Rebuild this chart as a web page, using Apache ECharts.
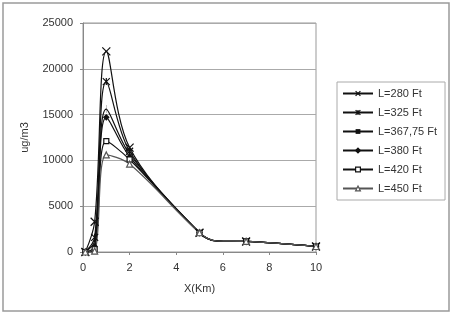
<!DOCTYPE html>
<html>
<head>
<meta charset="utf-8">
<script src="https://cdn.jsdelivr.net/npm/echarts@6/dist/echarts.min.js"></script>
<style>
  html, body { margin: 0; padding: 0; background: #fff; }
  #chart { width: 453px; height: 315px; }
</style>
</head>
<body>
<div id="chart"></div>
<script>
// distance downwind (km); 5.75 is a bend without a marker
const xKm = [0.1, 0.5, 1, 2, 5, 5.75, 7, 10]
const noMarkerIdx = [5]

const seriesNames = ['L=280 Ft', 'L=325 Ft', 'L=367,75 Ft', 'L=380 Ft', 'L=420 Ft', 'L=450 Ft']
const l280 = [0, 3300, 21900, 11400, 2100, 1200, 1150, 600]
const l325 = [0, 1600, 18600, 11000, 2100, 1200, 1150, 600]
const l367 = [0, 1200, 15600, 10700, 2100, 1200, 1150, 600]
const l380 = [0, 600, 14700, 10400, 2100, 1200, 1150, 600]
const l420 = [0, 300, 12100, 10100, 2100, 1200, 1150, 600]
const l450 = [0, 100, 10600, 9600, 2100, 1200, 1150, 600]
const allValues = [l280, l325, l367, l380, l420, l450]

const yTicks = [0, 5000, 10000, 15000, 20000, 25000]
const xTicks = [0, 2, 4, 6, 8, 10]

const symbols = [
  'path://M0,0L10,10M10,0L0,10',
  'path://M0,0L10,10M10,0L0,10M5,0L5,10',
  'path://M4.4,0L5.6,0L5.6,10L4.4,10Z',
  'diamond',
  'rect',
  'triangle'
]
const symbolSizes = [8, 7, [2, 8], 5, 5, 6]
const strokeOnly = [true, true, false, false, false, false]
const hollow = [false, false, false, false, true, true]
const lineColors = ['#111', '#111', '#111', '#111', '#111', '#555']

const chart = echarts.init(document.getElementById('chart'), null, { renderer: 'canvas' })

const font = 'Liberation Sans, Arial, sans-serif'

const markStyle = i => ({
  color: strokeOnly[i] ? 'none' : (hollow[i] ? '#fff' : lineColors[i]),
  borderColor: lineColors[i],
  borderWidth: i === 2 ? 0 : 1.2
})

const series = seriesNames.map((name, i) => ({
  name,
  type: 'line',
  smooth: 0.35,
  symbol: symbols[i],
  symbolSize: symbolSizes[i],
  symbolKeepAspect: true,
  showAllSymbol: true,
  lineStyle: { color: lineColors[i], width: 1.2 },
  itemStyle: markStyle(i),
  data: xKm.map((x, j) => {
    const pt = { value: [x, allValues[i][j]] }
    if (noMarkerIdx.includes(j)) pt.symbol = 'none'
    return pt
  })
}))

const option = {
  animation: false,
  backgroundColor: '#fff',
  graphic: [{
    type: 'rect',
    shape: { x: 3, y: 3, width: 446, height: 308 },
    style: { fill: 'none', stroke: '#9a9a9a', lineWidth: 1.5 }
  }],
  grid: { left: 83, right: 137, top: 23, bottom: 63, show: true, borderColor: '#999', borderWidth: 1 },
  legend: {
    orient: 'vertical',
    left: 337,
    top: 82,
    itemWidth: 30,
    itemHeight: 6,
    itemGap: 8,
    padding: [6, 8, 6, 5],
    borderColor: '#aaa',
    borderWidth: 1,
    textStyle: { fontFamily: font, fontSize: 11, color: '#333' },
    data: seriesNames.map((name, i) => ({ name, itemStyle: markStyle(i) }))
  },
  xAxis: {
    type: 'value',
    min: 0,
    max: 10,
    interval: 2,
    name: 'X(Km)',
    nameLocation: 'middle',
    nameGap: 31,
    nameTextStyle: { fontFamily: font, fontSize: 11, color: '#333' },
    axisLine: { lineStyle: { color: '#888' } },
    axisTick: { show: true, length: 3, lineStyle: { color: '#888' } },
    axisLabel: {
      fontFamily: font, fontSize: 11, color: '#333', margin: 10,
      formatter: v => xTicks.includes(v) ? String(v) : ''
    },
    splitLine: { show: false }
  },
  yAxis: {
    type: 'value',
    min: 0,
    max: 25000,
    interval: 5000,
    name: 'ug/m3',
    nameLocation: 'middle',
    nameGap: 53,
    nameTextStyle: { fontFamily: font, fontSize: 11, color: '#333' },
    axisLine: { show: true, lineStyle: { color: '#888' } },
    axisTick: { show: true, length: 3, lineStyle: { color: '#888' } },
    axisLabel: {
      fontFamily: font, fontSize: 11, color: '#333', margin: 10,
      formatter: v => yTicks.includes(v) ? String(v) : ''
    },
    splitLine: { lineStyle: { color: '#aaa', width: 1 } }
  },
  series
}

chart.setOption(option)
</script>
</body>
</html>
